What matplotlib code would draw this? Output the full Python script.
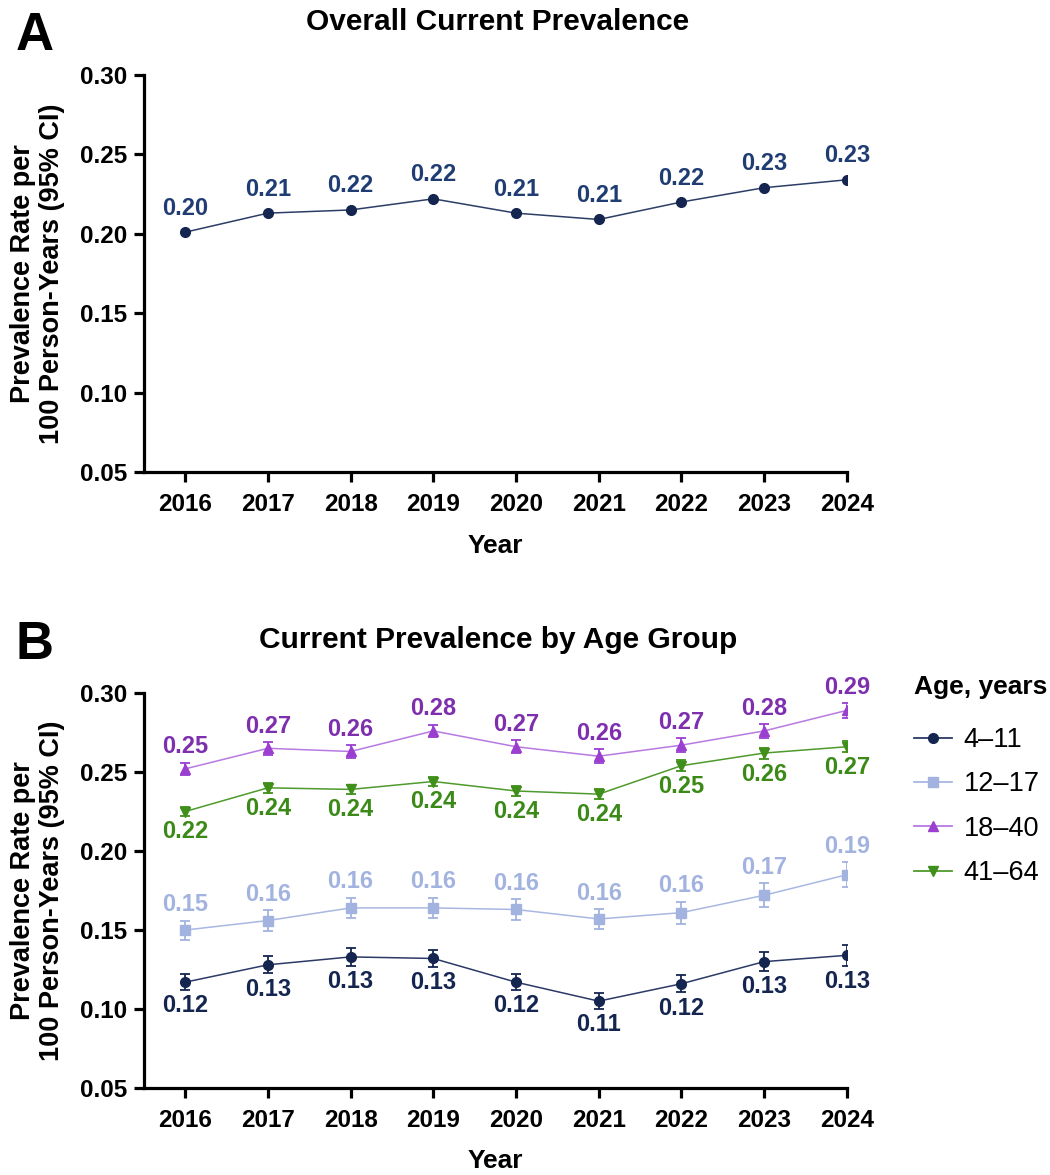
import matplotlib
matplotlib.use('Agg')
import matplotlib.pyplot as plt
from matplotlib.lines import Line2D

plt.rcParams['font.family'] = ['Liberation Sans', 'DejaVu Sans']

# Datos
years = [2016, 2017, 2018, 2019, 2020, 2021, 2022, 2023, 2024]
overall = [0.201, 0.213, 0.215, 0.222, 0.213, 0.209, 0.220, 0.229, 0.234]
overall_lbl = ['0.20', '0.21', '0.22', '0.22', '0.21', '0.21', '0.22', '0.23', '0.23']

age_groups = ['4\u201311', '12\u201317', '18\u201340', '41\u201364']
age_4_11 = [0.117, 0.128, 0.133, 0.132, 0.117, 0.105, 0.116, 0.130, 0.134]
age_12_17 = [0.150, 0.156, 0.164, 0.164, 0.163, 0.157, 0.161, 0.172, 0.185]
age_18_40 = [0.252, 0.265, 0.263, 0.276, 0.266, 0.260, 0.267, 0.276, 0.289]
age_41_64 = [0.225, 0.240, 0.239, 0.244, 0.238, 0.236, 0.254, 0.262, 0.266]
err_4_11 = [0.005, 0.0055, 0.0055, 0.0055, 0.005, 0.005, 0.0055, 0.006, 0.0065]
err_12_17 = [0.006, 0.0065, 0.0065, 0.0065, 0.0065, 0.0065, 0.007, 0.0075, 0.008]
err_18_40 = [0.004, 0.004, 0.004, 0.004, 0.004, 0.0045, 0.0045, 0.0045, 0.0045]
err_41_64 = [0.003, 0.003, 0.003, 0.003, 0.003, 0.003, 0.0035, 0.0035, 0.0035]
lbl_4_11 = ['0.12', '0.13', '0.13', '0.13', '0.12', '0.11', '0.12', '0.13', '0.13']
lbl_12_17 = ['0.15', '0.16', '0.16', '0.16', '0.16', '0.16', '0.16', '0.17', '0.19']
lbl_18_40 = ['0.25', '0.27', '0.26', '0.28', '0.27', '0.26', '0.27', '0.28', '0.29']
lbl_41_64 = ['0.22', '0.24', '0.24', '0.24', '0.24', '0.24', '0.25', '0.26', '0.27']

fig = plt.figure(figsize=(10.5, 11.75), dpi=100)
axA = fig.add_axes([0.137, 0.5983, 0.6695, 0.3379])
axB = fig.add_axes([0.137, 0.074, 0.6695, 0.3362])


def style_axis(ax):
    for s in ['top', 'right']:
        ax.spines[s].set_visible(False)
    for s in ['left', 'bottom']:
        ax.spines[s].set_linewidth(2.3)
    ax.set_xlim(2015.5, 2024)
    ax.set_ylim(0.05, 0.30)
    ax.set_xticks(years)
    ax.set_yticks([0.05, 0.10, 0.15, 0.20, 0.25, 0.30])
    ax.set_yticklabels(['0.05', '0.10', '0.15', '0.20', '0.25', '0.30'])
    ax.tick_params(axis='both', width=2.3, length=7, labelsize=17.5, pad=5)
    ax.tick_params(axis='x', pad=8)
    for t in ax.get_xticklabels() + ax.get_yticklabels():
        t.set_fontweight('bold')
    ax.set_xlabel('Year', fontsize=19, fontweight='bold')
    ax.xaxis.set_label_coords(0.5, -0.155)
    ax.spines['bottom'].set_bounds(2015.5, 2024)
    # etiqueta del eje y como texto de la figura
    pos = ax.get_position()
    fig.text(0.036, pos.y0 + pos.height / 2, 'Prevalence Rate per\n100 Person-Years (95% CI)',
             rotation=90, ha='center', va='center', fontsize=19.5, fontweight='bold',
             linespacing=1.15)


# Panel A
navy = '#14254f'
style_axis(axA)
axA.plot(years, overall, color='#2c3d66', lw=1.1, marker='o', ms=7,
         mfc=navy, mec=navy, zorder=3)
for x, y, t in zip(years, overall, overall_lbl):
    axA.annotate(t, (x, y), xytext=(0, 9), textcoords='offset points',
                 ha='center', va='bottom', fontsize=17, fontweight='bold',
                 color='#1f3d73')
fig.text(0.474, 0.981, 'Overall Current Prevalence', ha='center', va='center',
         fontsize=21.5, fontweight='bold')
fig.text(0.033, 0.969, 'A', ha='center', va='center', fontsize=38, fontweight='bold')

# Panel B
style_axis(axB)
series = [
    (age_4_11, err_4_11, lbl_4_11, 'o', navy, '#2b3a66', navy, 'below'),
    (age_12_17, err_12_17, lbl_12_17, 's', '#a3b3e0', '#a9b8e2', '#a3b3e0', 'above'),
    (age_18_40, err_18_40, lbl_18_40, '^', '#9a3fd0', '#b77ae0', '#7d2fae', 'above'),
    (age_41_64, err_41_64, lbl_41_64, 'v', '#3f8f1a', '#4f9a2c', '#3b8a18', 'below'),
]
handles = []
for vals, err, lbls, mk, mcol, lcol, tcol, pos in series:
    axB.errorbar(years, vals, yerr=err, color=lcol, lw=1.1, marker=mk, ms=7,
                 mfc=mcol, mec=mcol, ecolor=mcol, elinewidth=1.3, capsize=3.5,
                 capthick=1.3, zorder=3)
    for x, y, e, t in zip(years, vals, err, lbls):
        if pos == 'above':
            axB.annotate(t, (x, y + e), xytext=(0, 3), textcoords='offset points',
                         ha='center', va='bottom', fontsize=17, fontweight='bold',
                         color=tcol)
        else:
            axB.annotate(t, (x, y - e), xytext=(0, -3), textcoords='offset points',
                         ha='center', va='top', fontsize=17, fontweight='bold',
                         color=tcol)
    handles.append(Line2D([], [], color=lcol, lw=1.3, marker=mk, ms=7,
                          mfc=mcol, mec=mcol))
fig.text(0.474, 0.455, 'Current Prevalence by Age Group', ha='center', va='center',
         fontsize=21.5, fontweight='bold')
fig.text(0.033, 0.451, 'B', ha='center', va='center', fontsize=38, fontweight='bold')

leg = axB.legend(handles, age_groups, title='Age, years', loc='upper left',
                 bbox_to_anchor=(1.095, 1.045), frameon=False, fontsize=19.5,
                 title_fontproperties={'weight': 'bold', 'size': 19},
                 handlelength=1.4, handletextpad=0.45, labelspacing=0.68,
                 borderaxespad=0, borderpad=0)
leg._legend_box.align = 'left'
leg._legend_box.sep = 20

fig.savefig('out.png', dpi=100)
